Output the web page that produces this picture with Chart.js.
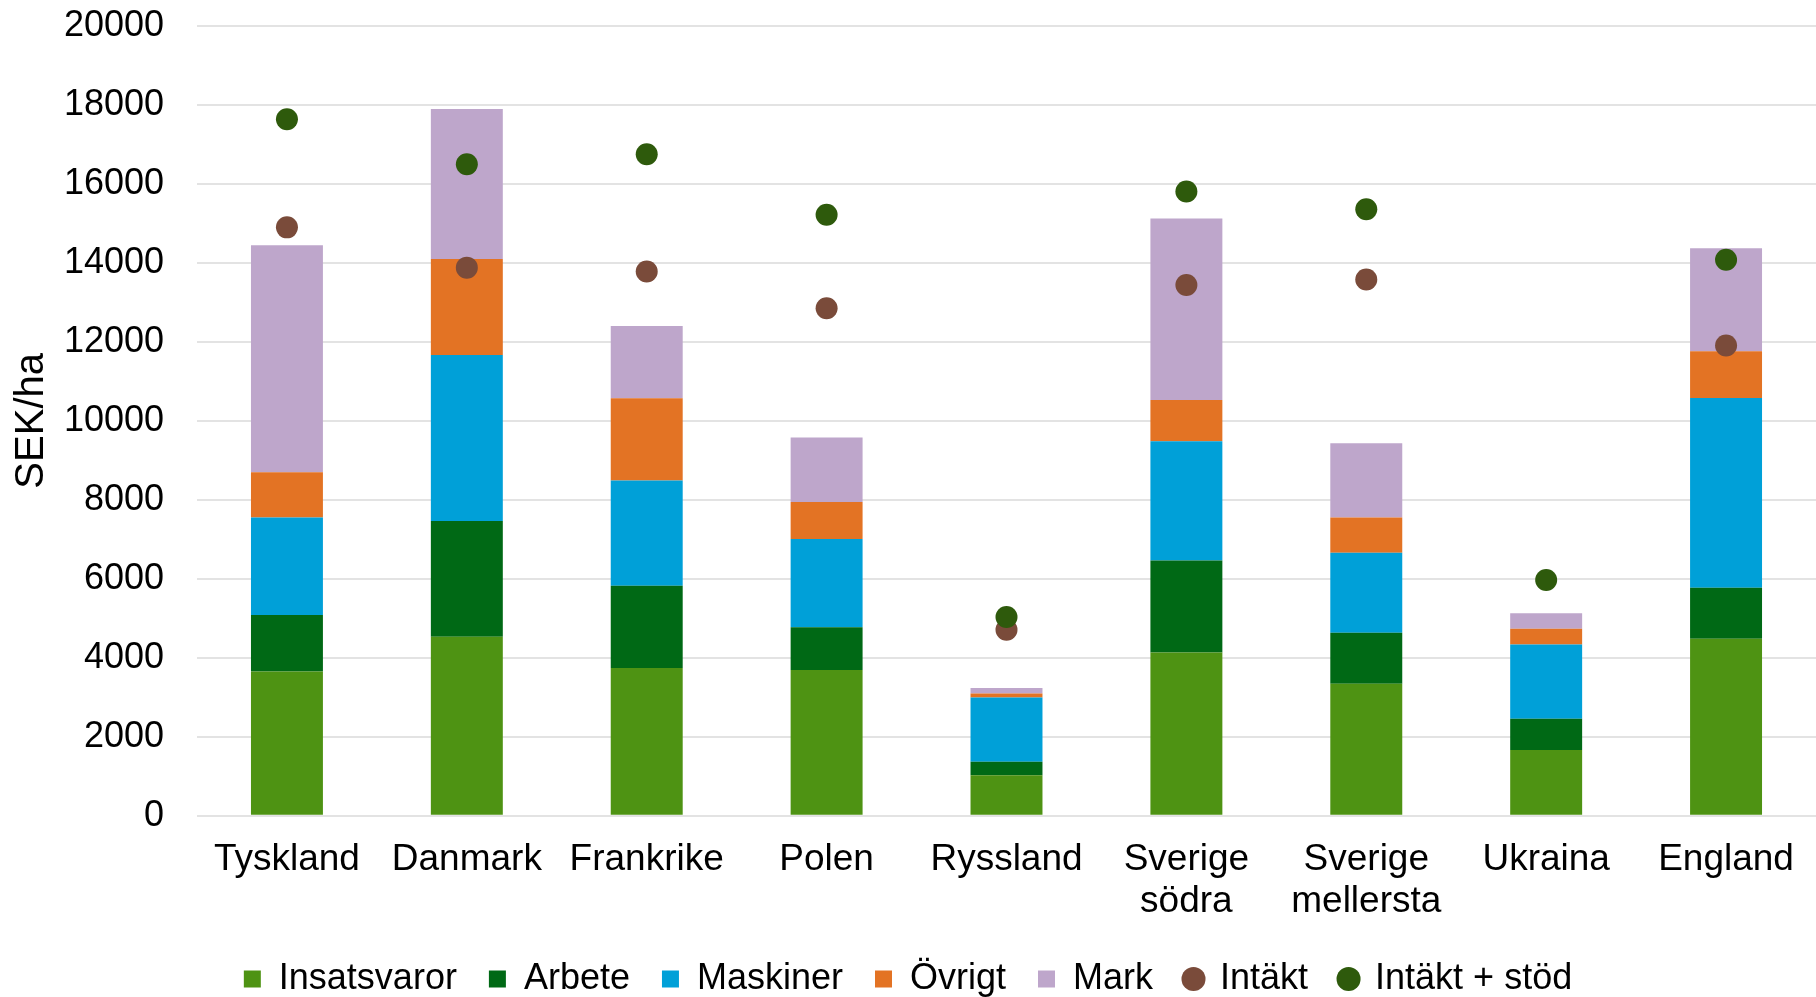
<!DOCTYPE html>
<html>
<head>
<meta charset="utf-8">
<script src="https://cdn.jsdelivr.net/npm/chart.js@4/dist/chart.umd.min.js"></script>
<style>
  html, body { margin: 0; padding: 0; background: #fff; overflow: hidden; }
  #wrap { width: 1816px; height: 997px; }
  canvas { display: block; }
</style>
</head>
<body>
<div id="wrap"><canvas id="grafico"></canvas></div>
<script>
// Kategorier och värden (SEK/ha)
const lander = ['Tyskland', 'Danmark', 'Frankrike', 'Polen', 'Ryssland',
  ['Sverige', 'södra'], ['Sverige', 'mellersta'], 'Ukraina', 'England'];

const insatsvaror = [3650, 4530, 3740, 3690, 1020, 4130, 3340, 1660, 4480];
const arbete      = [1430, 2930, 2085, 1080, 345, 2330, 1290, 795, 1295];
const maskiner    = [2470, 4210, 2665, 2235, 1630, 3020, 2030, 1880, 4805];
const ovrigt      = [1150, 2430, 2080, 940, 100, 1050, 890, 400, 1185];
const mark        = [5750, 3800, 1830, 1630, 140, 4595, 1880, 390, 2605];

const intakt      = [14900, 13880, 13780, 12850, 4710, 13440, 13580, null, 11910];
const intaktStod  = [17640, 16500, 16750, 15220, 5030, 15810, 15360, 5970, 14080];

const yTicks = [0, 2000, 4000, 6000, 8000, 10000, 12000, 14000, 16000, 18000, 20000];

Chart.defaults.font.family = "'Liberation Sans', Arial, sans-serif";
Chart.defaults.font.size = 36;
Chart.defaults.color = '#000';

function stapel(label, data, color) {
  return {
    type: 'bar', label: label, data: data, backgroundColor: color,
    borderWidth: 0, order: 2, pointStyle: 'rect', stack: 'kostnad'
  };
}

function punkt(label, data, color, order, stack) {
  return {
    type: 'line', label: label, data: data, showLine: false,
    pointRadius: 11, pointHoverRadius: 11, pointBorderWidth: 0,
    backgroundColor: color, borderColor: color, pointStyle: 'circle',
    order: order, stack: stack
  };
}

const ctx = document.getElementById('grafico').getContext('2d');

new Chart(ctx, {
  data: {
    labels: lander,
    datasets: [
      stapel('Insatsvaror', insatsvaror, '#4e9313'),
      stapel('Arbete', arbete, '#006915'),
      stapel('Maskiner', maskiner, '#00a0d8'),
      stapel('Övrigt', ovrigt, '#e37324'),
      stapel('Mark', mark, '#bea6cb'),
      punkt('Intäkt', intakt, '#7a4b3a', 1, 'p1'),
      punkt('Intäkt + stöd', intaktStod, '#2e5a0c', 0, 'p2')
    ]
  },
  options: {
    responsive: true,
    maintainAspectRatio: false,
    animation: false,
    layout: { autoPadding: false, padding: { top: 0, right: 0, bottom: -10, left: 0 } },
    datasets: {
      bar: { categoryPercentage: 0.8, barPercentage: 0.5 }
    },
    plugins: {
      tooltip: { enabled: false },
      legend: {
        position: 'bottom',
        labels: {
          usePointStyle: true,
          boxWidth: 17,
          boxHeight: 17,
          padding: 32,
          sort: (a, b) => a.datasetIndex - b.datasetIndex
        }
      }
    },
    scales: {
      x: {
        stacked: true,
        grid: { display: false },
        border: { display: false },
        ticks: { padding: 15, maxRotation: 0, autoSkip: false, font: { size: 37, lineHeight: 1.14 } },
        afterFit: (axis) => {
          axis.height -= 9;
          axis.paddingLeft = 0;
          axis.paddingRight = 0;
        }
      },
      y: {
        stacked: true,
        min: 0,
        max: 20000,
        afterBuildTicks: (axis) => { axis.ticks = yTicks.map(v => ({ value: v })); },
        afterFit: (axis) => {
          axis.width = 197;
          axis.paddingTop = 26;
          axis.paddingBottom = 0;
        },
        grid: { color: '#e3e3e3', lineWidth: 2, drawTicks: false },
        border: { display: false },
        ticks: { padding: 33, callback: (v) => String(v) },
        title: { display: true, text: 'SEK/ha', font: { size: 40 }, padding: { top: 8, bottom: 10 } }
      }
    }
  }
});
</script>
</body>
</html>
